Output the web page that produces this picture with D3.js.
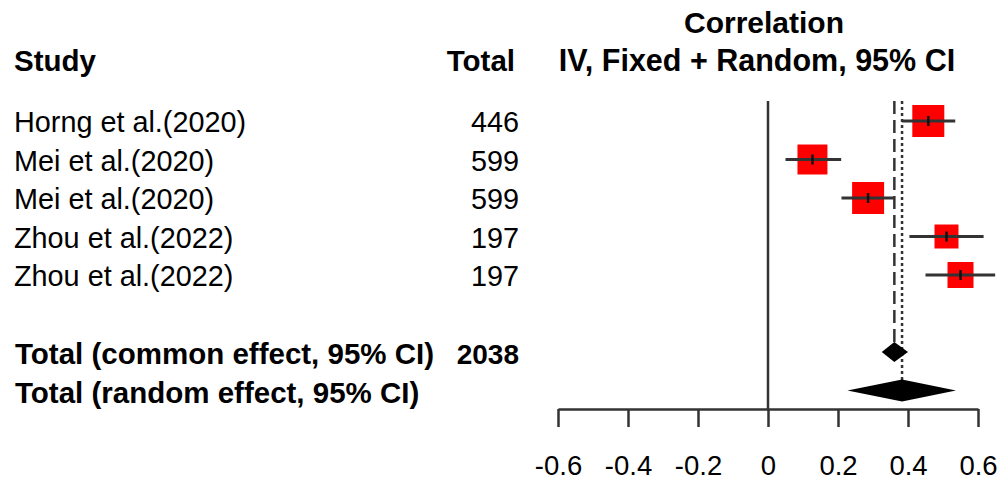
<!DOCTYPE html>
<html>
<head>
<meta charset="utf-8">
<script src="https://cdn.jsdelivr.net/npm/d3@7"></script>
<style>
  body { margin: 0; background: #fff; }
  text { font-family: "Liberation Sans", Arial, sans-serif; fill: #000; }
</style>
</head>
<body>
<div id="forest"></div>
<script>
// Study data
var studies = ["Horng et al.(2020)", "Mei et al.(2020)", "Mei et al.(2020)", "Zhou et al.(2022)", "Zhou et al.(2022)"];
var totals = [446, 599, 599, 197, 197];
var estimates = [0.458, 0.127, 0.286, 0.510, 0.550];
var lower = [0.383, 0.050, 0.210, 0.404, 0.450];
var upper = [0.535, 0.209, 0.360, 0.616, 0.649];
var weights = [24.4, 21.4, 24.4, 13.7, 16.1];

// pooled results: common and random effect
var pooledLabels = ["Total (common effect, 95% CI)", "Total (random effect, 95% CI)"];
var pooledTotals = ["2038", ""];
var pooledEst = [0.361, 0.383];
var pooledLower = [0.325, 0.227];
var pooledUpper = [0.400, 0.537];

var tickValues = [-0.6, -0.4, -0.2, 0, 0.2, 0.4, 0.6];

var svgWidth = 1000;
var svgHeight = 481;

var svg = d3.select("#forest")
  .append("svg")
  .attr("width", svgWidth)
  .attr("height", svgHeight);

// x scale for correlation, y scale for row index
var xScale = d3.scaleLinear()
  .domain([-0.6, 0.6])
  .range([558, 978]);

var yScale = d3.scaleLinear()
  .domain([0, 1])
  .range([121, 159.5]);

var sizeScale = d3.scaleSqrt()
  .domain([0, d3.max(weights)])
  .range([0, 32]);

var axisY = 409;
var lineColor = "#333";
var boldSize = 29.5;
var plainSize = 28.8;

// headers
svg.append("text")
  .attr("x", 14).attr("y", 71)
  .attr("font-size", boldSize).attr("font-weight", "bold")
  .text("Study");

svg.append("text")
  .attr("x", 515).attr("y", 71)
  .attr("text-anchor", "end")
  .attr("font-size", boldSize).attr("font-weight", "bold")
  .text("Total");

svg.append("text")
  .attr("x", 764).attr("y", 33)
  .attr("text-anchor", "middle")
  .attr("font-size", 30).attr("font-weight", "bold")
  .text("Correlation");

svg.append("text")
  .attr("x", 757).attr("y", 71)
  .attr("text-anchor", "middle")
  .attr("font-size", 30.5).attr("font-weight", "bold")
  .text("IV, Fixed + Random, 95% CI");

// study labels and totals
svg.selectAll(".study")
  .data(studies)
  .enter()
  .append("text")
  .attr("class", "study")
  .attr("x", 14)
  .attr("y", (d, i) => yScale(i) + 11)
  .attr("font-size", plainSize)
  .text(d => d);

svg.selectAll(".total")
  .data(totals)
  .enter()
  .append("text")
  .attr("class", "total")
  .attr("x", 519)
  .attr("y", (d, i) => yScale(i) + 11)
  .attr("text-anchor", "end")
  .attr("font-size", plainSize)
  .text(d => d);

// pooled labels
svg.selectAll(".pooled")
  .data(pooledLabels)
  .enter()
  .append("text")
  .attr("class", "pooled")
  .attr("x", 15)
  .attr("y", (d, i) => yScale(i + 6) + 12)
  .attr("font-size", boldSize).attr("font-weight", "bold")
  .text(d => d);

svg.selectAll(".pooledTotal")
  .data(pooledTotals)
  .enter()
  .append("text")
  .attr("class", "pooledTotal")
  .attr("x", 519)
  .attr("y", (d, i) => yScale(i + 6) + 12)
  .attr("text-anchor", "end")
  .attr("font-size", 28).attr("font-weight", "bold")
  .text(d => d);

// line of no effect
svg.append("line")
  .attr("x1", xScale(0)).attr("x2", xScale(0))
  .attr("y1", 101).attr("y2", axisY)
  .attr("stroke", lineColor)
  .attr("stroke-width", 2.5);

// common effect (dashed) and random effect (dotted) lines
svg.append("line")
  .attr("x1", xScale(pooledEst[0])).attr("x2", xScale(pooledEst[0]))
  .attr("y1", 101).attr("y2", yScale(6) - 9)
  .attr("stroke", lineColor)
  .attr("stroke-width", 2.5)
  .attr("stroke-dasharray", "13,6");

svg.append("line")
  .attr("x1", xScale(pooledEst[1])).attr("x2", xScale(pooledEst[1]))
  .attr("y1", 101).attr("y2", yScale(7) - 10)
  .attr("stroke", lineColor)
  .attr("stroke-width", 2.5)
  .attr("stroke-dasharray", "3,3");

// squares sized by weight
svg.selectAll(".square")
  .data(estimates)
  .enter()
  .append("rect")
  .attr("class", "square")
  .attr("x", (d, i) => xScale(d) - sizeScale(weights[i]) / 2)
  .attr("y", (d, i) => yScale(i) - sizeScale(weights[i]) / 2)
  .attr("width", (d, i) => sizeScale(weights[i]))
  .attr("height", (d, i) => sizeScale(weights[i]))
  .attr("fill", "#ff0000");

// confidence intervals
svg.selectAll(".ci")
  .data(estimates)
  .enter()
  .append("line")
  .attr("class", "ci")
  .attr("x1", (d, i) => xScale(lower[i]))
  .attr("x2", (d, i) => xScale(upper[i]))
  .attr("y1", (d, i) => yScale(i))
  .attr("y2", (d, i) => yScale(i))
  .attr("stroke", lineColor)
  .attr("stroke-width", 2.8);

// small mark on each estimate
svg.selectAll(".est")
  .data(estimates)
  .enter()
  .append("line")
  .attr("class", "est")
  .attr("x1", d => xScale(d))
  .attr("x2", d => xScale(d))
  .attr("y1", (d, i) => yScale(i) - 5)
  .attr("y2", (d, i) => yScale(i) + 5)
  .attr("stroke", "#111")
  .attr("stroke-width", 2.5);

// diamonds
svg.selectAll(".diamond")
  .data(pooledEst)
  .enter()
  .append("path")
  .attr("class", "diamond")
  .attr("d", function(d, i) {
    var y = yScale(i + 6);
    var h = i === 0 ? 10 : 11;
    return "M" + xScale(pooledLower[i]) + "," + y +
      "L" + xScale(d) + "," + (y - h) +
      "L" + xScale(pooledUpper[i]) + "," + y +
      "L" + xScale(d) + "," + (y + h) + "Z";
  })
  .attr("fill", "#000");

// bottom axis
var bottomAxis = d3.axisBottom(xScale)
  .tickValues(tickValues)
  .tickSize(18)
  .tickSizeOuter(0)
  .tickPadding(28)
  .tickFormat(d => d === 0 ? "0" : d.toFixed(1));

var axisGroup = svg.append("g")
  .attr("transform", `translate(0, ${axisY})`)
  .call(bottomAxis);

axisGroup.selectAll("path, line")
  .attr("stroke", lineColor)
  .attr("stroke-width", 2.5);

axisGroup.selectAll("text")
  .attr("font-size", 27.5)
  .attr("font-family", "'Liberation Sans', Arial, sans-serif")
  .attr("fill", "#000");
</script>
</body>
</html>
